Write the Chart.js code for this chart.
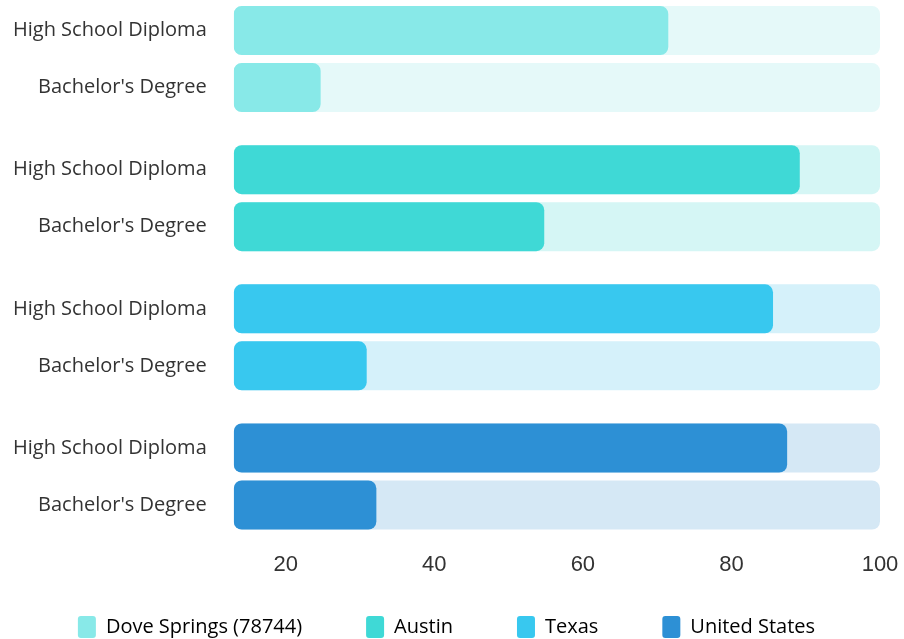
<!DOCTYPE html>
<html>
<head>
<meta charset="utf-8">
<title>Educational attainment</title>
<script src="https://cdn.jsdelivr.net/npm/chart.js@4.4.1/dist/chart.umd.min.js"></script>
<style>
  html, body { margin: 0; padding: 0; background: #fff; }
  #wrap { width: 904px; height: 639px; }
</style>
</head>
<body>
<div id="wrap"><canvas id="chart"></canvas></div>
<script>
const places = ['Dove Springs (78744)', 'Austin', 'Texas', 'United States'];
const degrees = ['High School Diploma', "Bachelor's Degree"];
const highSchool = [71.5, 89.2, 85.6, 87.5];
const bachelors = [24.7, 54.8, 30.9, 32.2];
const fullScale = [100, 100, 100, 100];
const xTicks = [20, 40, 60, 80, 100];
const xMin = 13;

const barColors = ['#88e9e8', '#3fd9d6', '#38c8ef', '#2d90d5'];
const trackColors = ['#e5f9f9', '#d5f6f5', '#d5f1fa', '#d5e8f5'];
const textColor = '#333333';

// one place per group row, the two degrees share it through stack slots
function bars(label, values, colors, stack, order) {
  return {
    label: label,
    data: values.map((v, i) => ({ x: v, y: i })),
    base: xMin,
    stack: stack,
    order: order,
    backgroundColor: colors,
    borderRadius: 8,
    borderSkipped: false,
    categoryPercentage: 0.819,
    barPercentage: 0.86
  };
}

new Chart(document.getElementById('chart'), {
  type: 'bar',
  data: {
    labels: places,
    datasets: [
      bars(degrees[0], highSchool, barColors, 'hs', 1),
      bars(degrees[1], bachelors, barColors, 'ba', 1),
      bars('track', fullScale, trackColors, 'hs', 2),
      bars('track', fullScale, trackColors, 'ba', 2)
    ]
  },
  options: {
    indexAxis: 'y',
    responsive: true,
    maintainAspectRatio: false,
    animation: false,
    layout: {
      padding: { top: 0, bottom: 0, left: 13, right: 24 }
    },
    scales: {
      x: {
        stacked: false,
        min: xMin,
        max: 100,
        grid: { display: false, drawTicks: false },
        border: { display: false },
        afterBuildTicks: (scale) => {
          scale.ticks = xTicks.map(v => ({ value: v }));
        },
        // labels hang below the plot, the legend takes the room under it
        afterFit: (scale) => {
          scale.height = 0;
          scale.paddingLeft = 0;
          scale.paddingRight = 0;
        },
        ticks: {
          mirror: true,
          padding: -26,
          color: textColor,
          font: { family: 'Liberation Sans', size: 22 }
        }
      },
      y: {
        type: 'linear',
        reverse: true,
        stacked: true,
        offset: false,
        min: -0.424,
        max: 3.5425,
        grid: { display: false, drawTicks: false },
        border: { display: false },
        afterBuildTicks: (scale) => {
          scale.ticks = places.map((p, i) => ({ value: i }));
        },
        afterFit: (scale) => {
          scale.width -= scale.options.ticks.padding;
          scale.paddingTop = 0;
          scale.paddingBottom = 0;
        },
        ticks: {
          autoSkip: false,
          padding: 27,
          color: textColor,
          font: { family: 'Open Sans', size: 20, lineHeight: '57px' },
          callback: () => degrees
        }
      }
    },
    plugins: {
      tooltip: { enabled: false },
      legend: {
        position: 'bottom',
        maxHeight: 87,
        labels: {
          color: textColor,
          font: { family: 'Open Sans', size: 20 },
          boxWidth: 18,
          boxHeight: 22,
          padding: 64,
          useBorderRadius: true,
          borderRadius: 3,
          generateLabels: () => places.map((p, i) => ({
            text: p,
            fillStyle: barColors[i],
            strokeStyle: barColors[i],
            lineWidth: 0,
            hidden: false,
            borderRadius: 3,
            datasetIndex: i
          }))
        }
      }
    }
  }
});
</script>
</body>
</html>
